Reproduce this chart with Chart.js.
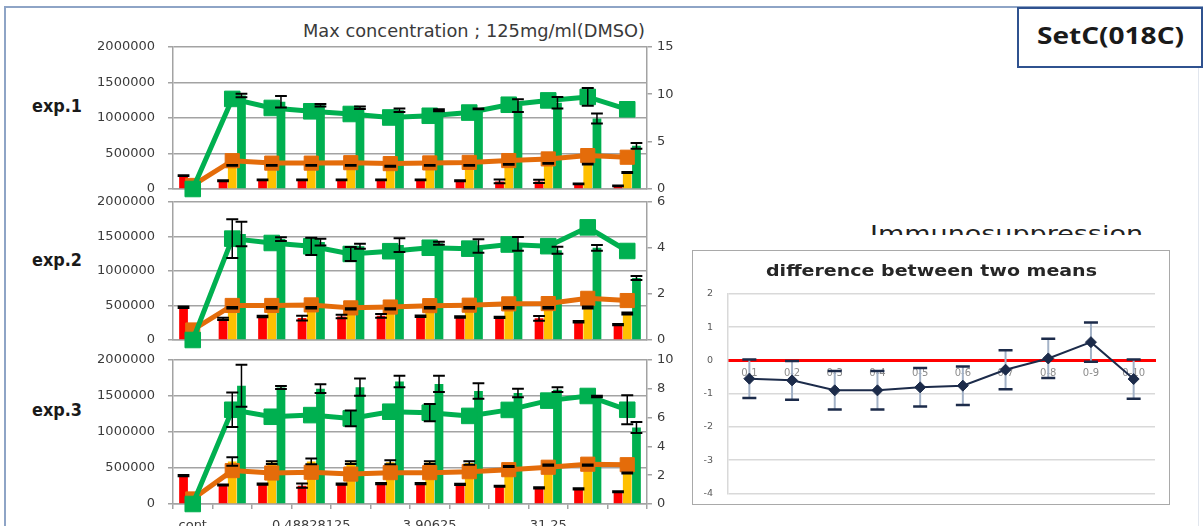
<!DOCTYPE html>
<html>
<head>
<meta charset="utf-8">
<script src="https://cdn.jsdelivr.net/npm/chart.js@4/dist/chart.umd.min.js"></script>
<style>
  html, body { margin: 0; padding: 0; background: #fff; }
  body { width: 1203px; height: 526px; overflow: hidden; position: relative; font-family: "DejaVu Sans", sans-serif; }
  .abs { position: absolute; }
  canvas { position: absolute; }
  .txt { position: absolute; white-space: nowrap; transform-origin: 0 0; line-height: 1; }
</style>
</head>
<body>
<!-- slide frame -->
<div class="abs" style="left:4px;top:6px;width:1300px;height:2px;background:#8ea4c6"></div>
<div class="abs" style="left:4px;top:6px;width:2px;height:600px;background:#8ea4c6"></div>
<div class="abs" style="left:1198px;top:8px;width:1px;height:600px;background:#e1e6ee"></div>

<div class="txt" data-w="342" data-base="37.7" data-k="0.846"
     style="left:303px;font-size:17.5px;color:#3a3a3a;">Max concentration ; 125mg/ml(DMSO)</div>

<div class="txt" data-w="50" data-base="112.3" data-k="0.846" style="left:32px;font-size:17px;font-weight:bold;color:#1a1a1a;">exp.1</div>
<div class="txt" data-w="50" data-base="266.3" data-k="0.846" style="left:32px;font-size:17px;font-weight:bold;color:#1a1a1a;">exp.2</div>
<div class="txt" data-w="50" data-base="416.5" data-k="0.846" style="left:32px;font-size:17px;font-weight:bold;color:#1a1a1a;">exp.3</div>

<!-- set label box -->
<div class="abs" style="left:1017px;top:7px;width:182px;height:57px;border:2px solid #2f528f;background:#fff;"></div>
<div class="txt" data-w="147" data-base="44" data-k="0.888"
     style="left:1037px;font-family:'Open Sans',sans-serif;font-size:23px;font-weight:bold;color:#1a1a1a;">SetC(018C)</div>

<!-- heading partly hidden behind the difference chart -->
<div class="abs" style="left:860px;top:214px;width:320px;height:21px;overflow:hidden;">
  <div class="txt" data-w="273" data-base="28" data-k="0.846" style="left:10px;font-size:22px;color:#222;">Immunosuppression</div>
</div>

<canvas id="exp1" width="700" height="176" style="left:0;top:35px;"></canvas>
<canvas id="exp2" width="700" height="172" style="left:0;top:190px;"></canvas>
<canvas id="exp3" width="700" height="187" style="left:0;top:347px;"></canvas>

<div class="abs" style="left:693px;top:251px;width:477px;height:254px;background:#fff;"></div>
<canvas id="diff" width="477" height="254" style="left:693px;top:251px;"></canvas>
<div class="abs" style="left:692px;top:250px;width:476px;height:253px;border:1.5px solid #a9a9a9;pointer-events:none;"></div>
<div class="txt" data-w="331" data-base="276.7" data-k="0.846"
     style="left:766px;font-size:16.5px;font-weight:bold;color:#262626;">difference between two means</div>

<script>
// Concentration steps (two-fold dilutions of 125), first group is the control
const CONCENTRATIONS = ['cont', '0.122070313', '0.244140625', '0.48828125', '0.9765625', '1.953125',
                        '3.90625', '7.8125', '15.625', '31.25', '62.5', '125'];

// exp.1 — lines on the left axis, bars on the right axis
const E1_GREEN_LINE     = [0, 1267000, 1140000, 1093000, 1055000, 1006000, 1030000, 1075000, 1185000, 1246000, 1295000, 1121000];
const E1_GREEN_LINE_ERR = [0, 0, 0, 0, 0, 0, 0, 0, 0, 0, 125000, 0];
const E1_ORANGE_LINE    = [50000, 398000, 364000, 364000, 370000, 357000, 367000, 374000, 400000, 423000, 470000, 447000];
const E1_RED            = [1.4, 0.87, 0.97, 0.97, 0.97, 0.97, 0.97, 0.87, 0.8, 0.8, 0.55, 0.34];
const E1_RED_ERR        = [0.04, 0.04, 0.04, 0.04, 0.04, 0.04, 0.04, 0.04, 0.2, 0.18, 0.04, 0.04];
const E1_YELLOW         = [0, 2.5, 2.5, 2.5, 2.5, 2.4, 2.5, 2.5, 2.6, 2.7, 2.62, 1.75];
const E1_YELLOW_ERR     = [0, 0.04, 0.04, 0.04, 0.04, 0.04, 0.04, 0.04, 0.04, 0.04, 0.04, 0.05];
const E1_GREEN_BAR      = [0, 9.86, 9.2, 8.83, 8.57, 8.3, 8.3, 8.45, 8.8, 9.1, 7.43, 4.55];
const E1_GREEN_BAR_ERR  = [0, 0.18, 0.6, 0.14, 0.13, 0.18, 0.1, 0.05, 0.67, 0.6, 0.53, 0.3];

// exp.2
const E2_GREEN_LINE     = [0, 1467000, 1404000, 1356000, 1245000, 1285000, 1335000, 1322000, 1382000, 1358000, 1630000, 1288000];
const E2_GREEN_LINE_ERR = [0, 280000, 0, 125000, 100000, 0, 0, 0, 0, 0, 0, 0];
const E2_ORANGE_LINE    = [145000, 500000, 500000, 508000, 465000, 477000, 497000, 504000, 523000, 527000, 603000, 571000];
const E2_RED            = [1.42, 0.92, 1.02, 0.95, 1.02, 1.05, 1.03, 1.0, 0.98, 0.94, 0.79, 0.67];
const E2_RED_ERR        = [0.03, 0.05, 0.03, 0.1, 0.08, 0.08, 0.03, 0.03, 0.03, 0.1, 0.03, 0.03];
const E2_YELLOW         = [0, 1.4, 1.4, 1.4, 1.35, 1.35, 1.4, 1.4, 1.4, 1.4, 1.41, 1.15];
const E2_YELLOW_ERR     = [0, 0.03, 0.03, 0.03, 0.03, 0.03, 0.03, 0.03, 0.03, 0.03, 0.04, 0.04];
const E2_GREEN_BAR      = [0, 4.6, 4.38, 4.25, 4.07, 4.12, 4.2, 4.08, 4.17, 3.9, 4.0, 2.69];
const E2_GREEN_BAR_ERR  = [0, 0.53, 0.08, 0.15, 0.11, 0.3, 0.07, 0.29, 0.3, 0.15, 0.12, 0.09];

// exp.3
const E3_GREEN_LINE     = [0, 1307000, 1210000, 1233000, 1187000, 1280000, 1266000, 1222000, 1305000, 1434000, 1498000, 1307000];
const E3_GREEN_LINE_ERR = [0, 240000, 0, 0, 110000, 0, 120000, 0, 0, 0, 0, 200000];
const E3_ORANGE_LINE    = [70000, 463000, 430000, 440000, 415000, 435000, 435000, 448000, 476000, 510000, 552000, 545000];
const E3_RED            = [1.97, 1.32, 1.38, 1.27, 1.38, 1.41, 1.41, 1.36, 1.23, 1.12, 1.05, 0.85];
const E3_RED_ERR        = [0.04, 0.04, 0.04, 0.15, 0.04, 0.04, 0.04, 0.04, 0.04, 0.04, 0.04, 0.04];
const E3_YELLOW         = [0, 2.95, 2.87, 2.95, 2.87, 2.9, 2.87, 2.85, 2.6, 2.7, 2.7, 2.15];
const E3_YELLOW_ERR     = [0, 0.3, 0.1, 0.2, 0.1, 0.14, 0.1, 0.12, 0.04, 0.04, 0.04, 0.04];
const E3_GREEN_BAR      = [0, 8.2, 8.08, 8.0, 8.1, 8.5, 8.33, 7.84, 7.7, 7.93, 7.45, 5.3];
const E3_GREEN_BAR_ERR  = [0, 1.45, 0.1, 0.3, 0.6, 0.4, 0.57, 0.54, 0.3, 0.17, 0.05, 0.38];

// Right-axis tick ranges per experiment [max, step]
const E1_RIGHT_AXIS = [15, 5];
const E2_RIGHT_AXIS = [6, 2];
const E3_RIGHT_AXIS = [10, 2];

// difference between two means
const DIFF_LABELS = ['0-1', '0-2', '0-3', '0-4', '0-5', '0-6', '0-7', '0-8', '0-9', '0-10'];
const DIFF_MEANS  = [-0.55, -0.6, -0.9, -0.9, -0.81, -0.76, -0.28, 0.06, 0.55, -0.56];
const DIFF_ERR    = [0.58, 0.58, 0.58, 0.58, 0.58, 0.58, 0.59, 0.59, 0.59, 0.59];

// --- text placement: baseline positioning and width fitting ---
document.querySelectorAll('.txt').forEach(el => {
  const fs = parseFloat(getComputedStyle(el).fontSize);
  el.style.top = (parseFloat(el.dataset.base) - parseFloat(el.dataset.k) * fs) + 'px';
  const w = el.getBoundingClientRect().width;
  el.style.transform = 'scaleX(' + (parseFloat(el.dataset.w) / w) + ')';
});

const RED = '#ff0000', YELLOW = '#ffc000', GREEN = '#00b050', ORANGE = '#e46c0a';
const GRID = '#a3a3a3', TICK = '#3b3b3b', NAVY = '#1c2b4a';
const TICK_FONT = { family: 'DejaVu Sans', size: 13 };

// Error bars drawn from each dataset's `errors` array through its own y scale
function drawErrorBars(chart, opts) {
  const ctx = chart.ctx;
  chart.data.datasets.forEach((ds, di) => {
    if (!ds.errors) return;
    const meta = chart.getDatasetMeta(di);
    const yScale = chart.scales[meta.yAxisID];
    meta.data.forEach((el, i) => {
      const e = ds.errors[i];
      if (!e) return;
      const v = ds.data[i];
      const x = el.x;
      const yTop = yScale.getPixelForValue(v + e);
      const yBot = yScale.getPixelForValue(v - e);
      const half = el.width ? el.width / 2 + 1.5 : opts.capHalf;
      ctx.save();
      ctx.strokeStyle = opts.stemColor;
      ctx.lineWidth = opts.stemWidth;
      ctx.beginPath();
      ctx.moveTo(x, yTop); ctx.lineTo(x, yBot);
      ctx.stroke();
      ctx.strokeStyle = opts.capColor;
      ctx.lineWidth = opts.capWidth;
      ctx.beginPath();
      ctx.moveTo(x - half, yTop); ctx.lineTo(x + half, yTop);
      ctx.moveTo(x - half, yBot); ctx.lineTo(x + half, yBot);
      ctx.stroke();
      ctx.restore();
    });
  });
}
const errorBarPlugin = {
  id: 'errorBars',
  beforeDatasetsDraw(chart, args, opts) { if (opts.layer === 'before') drawErrorBars(chart, opts); },
  afterDatasetsDraw(chart, args, opts) { if (opts.layer !== 'before') drawErrorBars(chart, opts); }
};

// Build a chart, then size/offset its canvas so the plot area spans [areaTop, areaBottom] on the page
function mountChart(id, makeConfig, areaTop, areaBottom) {
  const cv = document.getElementById(id);
  let chart = new Chart(cv, makeConfig());
  const ca = chart.chartArea;
  const newH = Math.round(chart.height + (areaBottom - areaTop) - (ca.bottom - ca.top));
  chart.destroy();
  cv.setAttribute('height', newH);
  cv.height = newH;
  cv.style.height = newH + 'px';
  chart = new Chart(cv, makeConfig());
  cv.style.top = (areaTop - chart.chartArea.top) + 'px';
  return chart;
}

function experimentConfig(s, rightAxis, showLabels) {
  return {
    type: 'bar',
    data: {
      labels: CONCENTRATIONS,
      datasets: [
        { type: 'line', data: s.greenLine, errors: s.greenLineErr, yAxisID: 'y', order: 0,
          borderColor: GREEN, backgroundColor: GREEN, borderWidth: 5, tension: 0, clip: false,
          pointStyle: 'rect', pointRadius: 11, pointBorderWidth: 1,
          pointBackgroundColor: GREEN, pointBorderColor: GREEN },
        { type: 'line', data: s.orangeLine, yAxisID: 'y', order: 1,
          borderColor: ORANGE, backgroundColor: ORANGE, borderWidth: 5, tension: 0, clip: false,
          pointStyle: 'rect', pointRadius: 10, pointBorderWidth: 1,
          pointBackgroundColor: ORANGE, pointBorderColor: ORANGE },
        { type: 'bar', data: s.red, errors: s.redErr, yAxisID: 'y2', order: 2, backgroundColor: RED },
        { type: 'bar', data: s.yellow, errors: s.yellowErr, yAxisID: 'y2', order: 2, backgroundColor: YELLOW },
        { type: 'bar', data: s.greenBar, errors: s.greenBarErr, yAxisID: 'y2', order: 2, backgroundColor: GREEN }
      ]
    },
    options: {
      responsive: false,
      maintainAspectRatio: false,
      animation: false,
      layout: { padding: { top: 4, left: 0, right: 0, bottom: 0 } },
      datasets: { bar: { categoryPercentage: 0.7, barPercentage: 0.95 } },
      plugins: {
        legend: { display: false },
        tooltip: { enabled: false },
        errorBars: { stemColor: '#000', stemWidth: 1.5, capColor: '#000', capWidth: 2, capHalf: 6 }
      },
      scales: {
        x: {
          offset: true,
          grid: { drawOnChartArea: false, drawTicks: showLabels, tickLength: 5, color: GRID, lineWidth: 1.5 },
          border: { color: GRID, width: 1.5 },
          ticks: {
            display: showLabels, autoSkip: false, maxRotation: 0, padding: 9,
            color: TICK, font: TICK_FONT,
            callback: (v, i) => (i % 3 === 0 ? CONCENTRATIONS[i] : '')
          },
          afterFit: sc => { sc.height = showLabels ? 32 : 22; }
        },
        y: {
          position: 'left', min: 0, max: 2000000,
          ticks: { stepSize: 500000, padding: 13, color: TICK, font: TICK_FONT, callback: v => String(v) },
          grid: { color: GRID, lineWidth: 1.5, tickLength: 5 },
          border: { color: GRID, width: 1.5 },
          afterFit: sc => { sc.width = 173; }
        },
        y2: {
          position: 'right', min: 0, max: rightAxis[0],
          ticks: { stepSize: rightAxis[1], padding: 5, color: TICK, font: TICK_FONT },
          grid: { drawOnChartArea: false, tickLength: 5, color: GRID, lineWidth: 1.5 },
          border: { color: GRID, width: 1.5 },
          afterFit: sc => { sc.width = 53; }
        }
      }
    },
    plugins: [errorBarPlugin]
  };
}

mountChart('exp1', () => experimentConfig({
  greenLine: E1_GREEN_LINE, greenLineErr: E1_GREEN_LINE_ERR, orangeLine: E1_ORANGE_LINE,
  red: E1_RED, redErr: E1_RED_ERR, yellow: E1_YELLOW, yellowErr: E1_YELLOW_ERR,
  greenBar: E1_GREEN_BAR, greenBarErr: E1_GREEN_BAR_ERR
}, E1_RIGHT_AXIS, false), 46.7, 188.6);

mountChart('exp2', () => experimentConfig({
  greenLine: E2_GREEN_LINE, greenLineErr: E2_GREEN_LINE_ERR, orangeLine: E2_ORANGE_LINE,
  red: E2_RED, redErr: E2_RED_ERR, yellow: E2_YELLOW, yellowErr: E2_YELLOW_ERR,
  greenBar: E2_GREEN_BAR, greenBarErr: E2_GREEN_BAR_ERR
}, E2_RIGHT_AXIS, false), 202, 339.7);

mountChart('exp3', () => experimentConfig({
  greenLine: E3_GREEN_LINE, greenLineErr: E3_GREEN_LINE_ERR, orangeLine: E3_ORANGE_LINE,
  red: E3_RED, redErr: E3_RED_ERR, yellow: E3_YELLOW, yellowErr: E3_YELLOW_ERR,
  greenBar: E3_GREEN_BAR, greenBarErr: E3_GREEN_BAR_ERR
}, E3_RIGHT_AXIS, true), 359.3, 503.7);

// Mean differences with their error ranges; the zero axis is drawn in red
mountChart('diff', () => ({
  type: 'line',
  data: {
    labels: DIFF_LABELS,
    datasets: [{
      data: DIFF_MEANS, errors: DIFF_ERR,
      borderColor: NAVY, backgroundColor: NAVY, borderWidth: 2, tension: 0, clip: false,
      pointStyle: 'rectRot', pointRadius: 5.5, pointBorderWidth: 1,
      pointBackgroundColor: NAVY, pointBorderColor: NAVY
    }]
  },
  options: {
    responsive: false,
    maintainAspectRatio: false,
    animation: false,
    layout: { padding: { top: 30, right: 15, bottom: 4, left: 0 } },
    plugins: {
      legend: { display: false },
      tooltip: { enabled: false },
      errorBars: { layer: 'before', stemColor: '#a3b2c7', stemWidth: 2, capColor: NAVY, capWidth: 2.5, capHalf: 7 }
    },
    scales: {
      x: {
        position: { y: 0 },
        offset: true,
        grid: { display: true, drawOnChartArea: false, drawTicks: false },
        border: { color: '#ff0000', width: 3 },
        ticks: { color: '#8c8c8c', font: { family: 'DejaVu Sans', size: 10 }, padding: 7, autoSkip: false, maxRotation: 0 }
      },
      y: {
        min: -4, max: 2,
        ticks: { stepSize: 1, padding: 15, color: '#595959', font: { family: 'DejaVu Sans', size: 9.5 } },
        grid: { color: '#d9d9d9', lineWidth: 1.5, drawTicks: false },
        border: { color: '#d9d9d9', width: 1.5 },
        afterFit: sc => { sc.width = 35; }
      }
    }
  },
  plugins: [errorBarPlugin]
}), 294.3, 494);
</script>
</body>
</html>
